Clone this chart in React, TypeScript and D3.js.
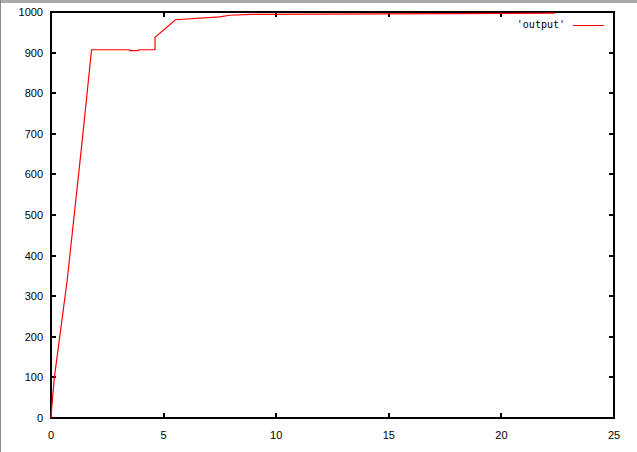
import React, { useEffect, useRef } from 'react';
import * as d3 from 'd3';

// values
const xs = [0, 0.03, 0.15, 0.72, 1.39, 1.8, 3.47, 3.5, 3.87, 3.9, 4.62, 4.62, 5.53, 7.49, 7.93, 8.91, 22.38];
const ys = [0, 25, 100, 340, 685, 907, 907, 905, 905, 907, 907, 938, 981, 988, 992, 994, 997];
const xTicks = [0, 5, 10, 15, 20, 25];
const yTicks = [0, 100, 200, 300, 400, 500, 600, 700, 800, 900, 1000];
const seriesName = "'output'";

export default function App() {
    const svgRef = useRef<SVGSVGElement>(null);

    useEffect(() => {
        const svg = d3.select(svgRef.current);
        svg.selectAll('*').remove();

        const W = 637;
        const H = 452;
        const left = 51, right = 614, top = 12, bottom = 418;

        svg.attr('width', W).attr('height', H);

        // window chrome: gray strip on top, thin border at left
        svg.append('rect').attr('x', 0).attr('y', 0).attr('width', W).attr('height', H).attr('fill', '#fff');
        svg.append('rect').attr('x', 0).attr('y', 0).attr('width', W).attr('height', 3).attr('fill', '#a9a9a9');
        svg.append('rect').attr('x', 0).attr('y', 0).attr('width', 1).attr('height', H).attr('fill', '#8a8a8a');

        const x = d3.scaleLinear().domain([0, 25]).range([left, right]);
        const y = d3.scaleLinear().domain([0, 1000]).range([bottom, top]);

        const font = "'Liberation Sans', Arial, sans-serif";
        const tickLen = 5;

        // ticks (mirrored on all sides, pointing inward)
        const ticks = svg.append('g').attr('stroke', '#000').attr('stroke-width', 2);
        xTicks.forEach((t) => {
            const px = Math.round(x(t));
            ticks.append('line').attr('x1', px).attr('x2', px).attr('y1', bottom).attr('y2', bottom - tickLen);
            ticks.append('line').attr('x1', px).attr('x2', px).attr('y1', top).attr('y2', top + tickLen);
        });
        yTicks.forEach((t) => {
            const py = Math.round(y(t));
            ticks.append('line').attr('x1', left).attr('x2', left + tickLen).attr('y1', py).attr('y2', py);
            ticks.append('line').attr('x1', right).attr('x2', right - tickLen).attr('y1', py).attr('y2', py);
        });

        // border
        svg.append('rect')
            .attr('x', left).attr('y', top)
            .attr('width', right - left).attr('height', bottom - top)
            .attr('fill', 'none').attr('stroke', '#000').attr('stroke-width', 2);

        // tick labels
        svg.append('g').selectAll('text').data(xTicks).enter().append('text')
            .attr('x', (d) => x(d))
            .attr('y', 439)
            .attr('text-anchor', 'middle')
            .style('font-family', font).style('font-size', '11px').style('fill', '#000')
            .text((d) => d);

        svg.append('g').selectAll('text').data(yTicks).enter().append('text')
            .attr('x', 43)
            .attr('y', (d) => y(d) + 4)
            .attr('text-anchor', 'end')
            .style('font-family', font).style('font-size', '11px').style('fill', '#000')
            .text((d) => d);

        // data line
        const pts = xs.map((v, i) => [v, ys[i]] as [number, number]);
        const line = d3.line<[number, number]>().x((d) => x(d[0])).y((d) => y(d[1]));
        svg.append('path')
            .datum(pts)
            .attr('fill', 'none')
            .attr('stroke', '#ff0000')
            .attr('stroke-width', 1.2)
            .attr('d', line);

        // legend
        svg.append('text')
            .attr('x', 565).attr('y', 27.5)
            .attr('text-anchor', 'end')
            .style('font-family', "'DejaVu Sans Mono', monospace").style('font-size', '10px').style('fill', '#000')
            .text(seriesName);
        svg.append('line')
            .attr('x1', 573).attr('x2', 604).attr('y1', 25.5).attr('y2', 25.5)
            .attr('stroke', '#ff0000').attr('stroke-width', 1);
    }, []);

    return (
        <div style={{ position: 'absolute', left: 0, top: 0 }}>
            <svg ref={svgRef} style={{ display: 'block' }} />
        </div>
    );
}
